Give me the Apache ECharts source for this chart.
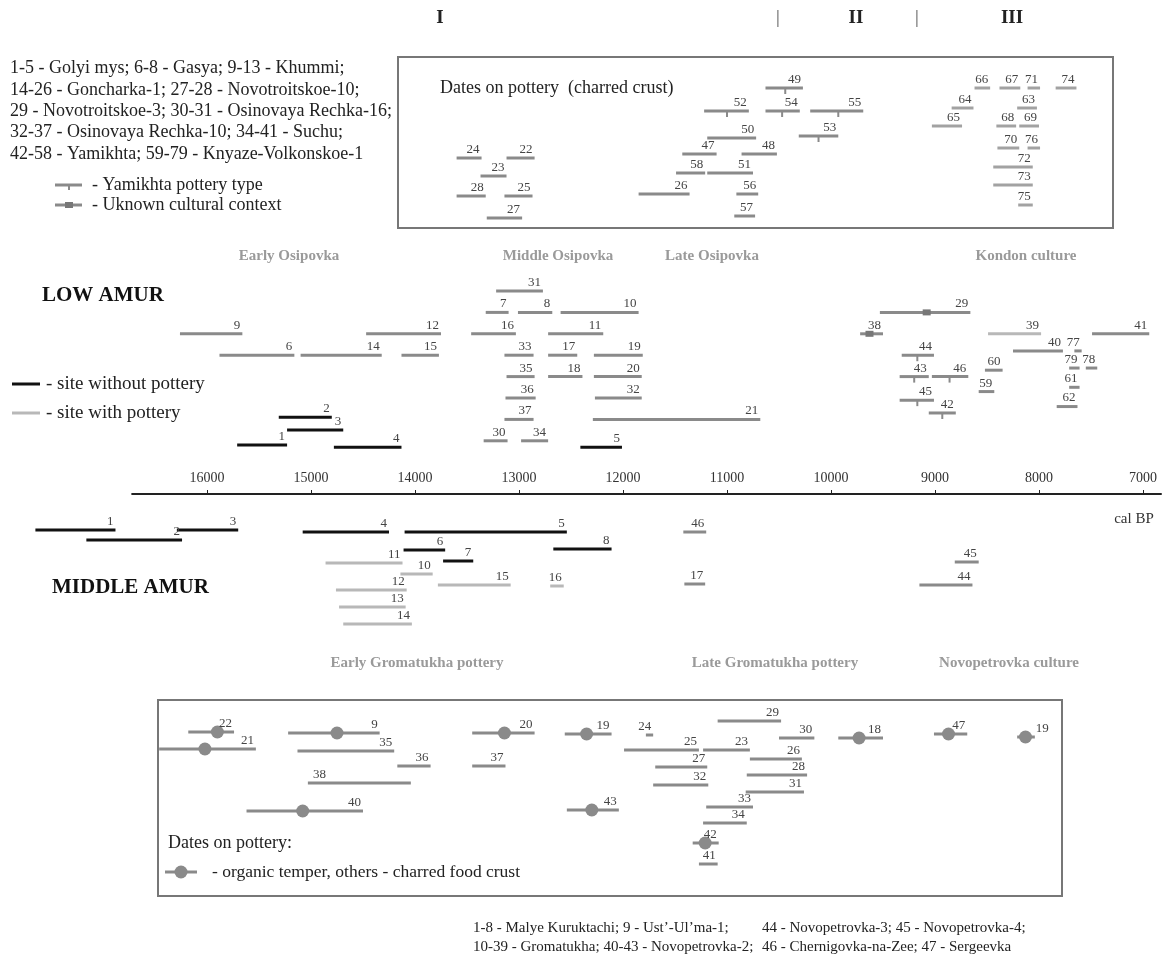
<!DOCTYPE html>
<html>
<head>
<meta charset="utf-8">
<script src="https://cdn.jsdelivr.net/npm/echarts@6/dist/echarts.min.js"></script>
<style>
html, body { margin: 0; background: #fff; }
#chart { width: 1163px; height: 958px; }
</style>
</head>
<body>
<div id="chart"></div>
<script>
// === DATA (cal BP) ===
// each row: [label, from, to, lane, marker]
const topGray = [
    ['24', 13600, 13360, 7], ['22', 13120, 12850, 7], ['23', 13370, 13120, 8.8],
    ['28', 13600, 13320, 10.8], ['25', 13140, 12870, 10.8], ['27', 13310, 12970, 13],
    ['47', 11430, 11100, 6.6], ['58', 11490, 11210, 8.5], ['26', 11850, 11360, 10.6],
    ['51', 11190, 10750, 8.5], ['50', 11190, 10720, 5], ['48', 10860, 10520, 6.6],
    ['56', 10910, 10700, 10.6], ['57', 10930, 10730, 12.8]
];
const topTicked = [
    ['49', 10630, 10270, 0, 10440], ['52', 11220, 10790, 2.3, 11000],
    ['54', 10630, 10300, 2.3, 10470], ['55', 10200, 9690, 2.3, 9930],
    ['53', 10310, 9930, 4.8, 10120]
];
const topLight = [
    ['66', 8620, 8470, 0], ['67', 8380, 8180, 0], ['71', 8110, 7990, 0], ['74', 7840, 7640, 0],
    ['64', 8840, 8630, 2], ['63', 8210, 8020, 2], ['65', 9030, 8740, 3.8], ['68', 8410, 8220, 3.8],
    ['69', 8190, 8000, 3.8], ['70', 8400, 8190, 6], ['76', 8110, 7990, 6], ['72', 8440, 8060, 7.9],
    ['73', 8440, 8060, 9.7], ['75', 8200, 8060, 11.7]
];

const lowBlack = [
    ['1', 15710, 15230, 7.2], ['2', 15310, 14800, 5.9], ['3', 15230, 14690, 6.5],
    ['4', 14780, 14130, 7.3], ['5', 12410, 12010, 7.3]
];
const lowGray = [
    ['9', 16260, 15660, 2], ['12', 14470, 13750, 2], ['6', 15880, 15160, 3], ['14', 15100, 14320, 3],
    ['15', 14130, 13770, 3], ['31', 13220, 12770, 0], ['7', 13320, 13100, 1], ['8', 13010, 12680, 1],
    ['10', 12600, 11850, 1], ['16', 13460, 13030, 2], ['11', 12720, 12190, 2], ['33', 13140, 12860, 3],
    ['17', 12720, 12440, 3], ['19', 12280, 11810, 3], ['35', 13120, 12850, 4], ['18', 12720, 12390, 4],
    ['20', 12280, 11820, 4], ['36', 13130, 12840, 5], ['32', 12270, 11820, 5], ['37', 13140, 12860, 6],
    ['21', 12290, 10680, 6], ['30', 13340, 13110, 7], ['34', 12980, 12720, 7], ['41', 7490, 6940, 2],
    ['40', 8250, 7770, 2.8], ['77', 7660, 7590, 2.8], ['60', 8520, 8350, 3.7], ['79', 7710, 7610, 3.6],
    ['78', 7550, 7440, 3.6], ['59', 8580, 8430, 4.7], ['61', 7710, 7610, 4.5], ['62', 7830, 7630, 5.4]
];
const lowLight = [['39', 8490, 7980, 2]];
const lowTicked = [
    ['44', 9320, 9010, 3, 9170], ['43', 9340, 9060, 4, 9200], ['46', 9030, 8680, 4, 8860],
    ['45', 9340, 9010, 5.1, 9170], ['42', 9060, 8800, 5.7, 8930]
];
const lowUnknown = [['29', 9530, 8660, 1, 9080], ['38', 9720, 9500, 2, 9630]];

const midBlack = [
    ['1', 17650, 16880, 0], ['3', 16290, 15700, 0], ['2', 17160, 16240, 1], ['4', 15080, 14250, 0.2],
    ['5', 14100, 12540, 0.2], ['6', 14110, 13710, 2], ['7', 13730, 13440, 3.1], ['8', 12670, 12110, 1.9]
];
const midLight = [
    ['11', 14860, 14120, 3.3], ['10', 14140, 13830, 4.4], ['15', 13780, 13080, 5.5], ['12', 14760, 14080, 6],
    ['13', 14730, 14090, 7.7], ['14', 14690, 14030, 9.4], ['16', 12700, 12570, 5.6]
];
const midGray = [
    ['46', 11420, 11200, 0.2], ['17', 11410, 11210, 5.4], ['45', 8810, 8580, 3.2], ['44', 9150, 8640, 5.5]
];

const botPlain = [
    ['29', 11090, 10480, 0], ['24', 11780, 11710, 1.4], ['30', 10500, 10160, 1.7], ['35', 15130, 14200, 3],
    ['25', 11990, 11270, 2.9], ['23', 11230, 10780, 2.9], ['26', 10780, 10280, 3.8], ['36', 14170, 13850, 4.5],
    ['37', 13450, 13130, 4.5], ['27', 11690, 11190, 4.6], ['28', 10810, 10230, 5.4], ['38', 15030, 14040, 6.2],
    ['32', 11710, 11180, 6.4], ['31', 10820, 10260, 7.1], ['33', 11200, 10750, 8.6], ['34', 11230, 10810, 10.2],
    ['41', 11270, 11090, 14.3]
];
const botCircle = [
    ['22', 16180, 15740, 1.1, 15900], ['21', 16460, 15530, 2.8, 16020], ['9', 15220, 14340, 1.2, 14750],
    ['40', 15620, 14500, 9, 15080], ['20', 13450, 12850, 1.2, 13140], ['19', 12560, 12110, 1.3, 12350],
    ['43', 12540, 12040, 8.9, 12300], ['42', 11330, 11080, 12.2, 11210], ['18', 9930, 9500, 1.7, 9730],
    ['47', 9010, 8690, 1.3, 8870], ['19', 8210, 8040, 1.6, 8130]
];

const tickValues = [16000, 15000, 14000, 13000, 12000, 11000, 10000, 9000, 8000, 7000];

// === LAYOUT ===
const X_RIGHT = 6827;    // BP at right edge
const X_LEFT = 17750;    // BP at left edge of the plotted bars
const AXIS_LEFT = 16720; // BP where the drawn axis line starts
const PLOT_LEFT = 25, PLOT_RIGHT = 2, PLOT_W = 1163 - PLOT_LEFT - PLOT_RIGHT;
const PX_PER_YEAR = PLOT_W / (X_LEFT - X_RIGHT);
const SERIF = '"Liberation Serif", "DejaVu Serif", serif';

// panels: top px of lane 0, px per lane, lane count
const panels = [
    { top: 88, lane: 10, n: 13 },     // upper box
    { top: 291, lane: 21.4, n: 7 },   // Low Amur
    { top: 530, lane: 10, n: 10 },    // Middle Amur
    { top: 721, lane: 10, n: 15 }     // lower box
];

// label placement exceptions (index in series)
const labelAtStart = { botPlain: [11] };
const labelAfterEnd = { botCircle: [10] };

// === RENDER ===
function barRender(rows, key, st) {
    return function (params, api) {
        const r = rows[params.dataIndex];
        const a = api.coord([r[1], r[3]]);
        const b = api.coord([r[2], r[3]]);
        const kids = [{
            type: 'line',
            shape: { x1: a[0], y1: a[1], x2: b[0], y2: b[1] },
            style: { stroke: st.color, lineWidth: st.width }
        }];
        if (r[4] != null) {
            const m = api.coord([r[4], r[3]]);
            if (st.mark === 'tick') {
                kids.push({ type: 'line', shape: { x1: m[0], y1: m[1], x2: m[0], y2: m[1] + 6 },
                    style: { stroke: st.color, lineWidth: 2 } });
            } else if (st.mark === 'square') {
                kids.push({ type: 'rect', shape: { x: m[0] - 4, y: m[1] - 3, width: 8, height: 6 },
                    style: { fill: '#777' } });
            } else if (st.mark === 'dot') {
                kids.push({ type: 'circle', shape: { cx: m[0], cy: m[1], r: 6.5 },
                    style: { fill: st.color } });
            }
        }
        let tx = b[0] - 2, align = 'right';
        if ((labelAtStart[key] || []).includes(params.dataIndex)) { tx = a[0] + 5; align = 'left'; }
        if ((labelAfterEnd[key] || []).includes(params.dataIndex)) { tx = b[0] + 1; align = 'left'; }
        kids.push({
            type: 'text', x: tx, y: a[1] - 2,
            style: { text: r[0], fill: '#444', font: '13px ' + SERIF, align: align, verticalAlign: 'bottom' }
        });
        return { type: 'group', children: kids };
    };
}

function barSeries(rows, key, panel, st) {
    return {
        type: 'custom',
        xAxisIndex: panel, yAxisIndex: panel,
        data: rows.map(r => [r[1], r[2], r[3]]),
        encode: { x: [0, 1], y: 2 },
        renderItem: barRender(rows, key, st),
        silent: true
    };
}

function txt(x, y, text, opt) {
    opt = opt || {};
    return {
        type: 'text', x: x, y: y, silent: true,
        style: {
            text: text, fill: opt.color || '#222',
            font: (opt.bold ? 'bold ' : '') + (opt.size || 18) + 'px ' + SERIF,
            align: opt.align || 'left', verticalAlign: 'middle'
        }
    };
}

function seg(x1, y1, x2, y2, color, w) {
    return { type: 'line', silent: true, shape: { x1: x1, y1: y1, x2: x2, y2: y2 },
        style: { stroke: color, lineWidth: w } };
}

function init() {
    const chart = echarts.init(document.getElementById('chart'));
    const axisGridLeft = PLOT_LEFT + (X_LEFT - AXIS_LEFT) * PX_PER_YEAR;

    const grids = panels.map(p => ({ left: PLOT_LEFT, right: PLOT_RIGHT, top: p.top, height: p.n * p.lane }));
    grids.push({ left: axisGridLeft, right: PLOT_RIGHT, top: 493, height: 1 });

    const xAxes = panels.map((p, i) => ({
        type: 'value', gridIndex: i, min: X_RIGHT, max: X_LEFT, inverse: true, show: false
    }));
    xAxes.push({
        type: 'value', gridIndex: 4, min: X_RIGHT, max: AXIS_LEFT, inverse: true, position: 'top',
        axisLine: { show: true, lineStyle: { color: '#222', width: 2 } },
        axisTick: { show: true, length: 4, lineStyle: { color: '#222' }, customValues: tickValues },
        axisLabel: { color: '#333', fontFamily: SERIF, fontSize: 14, margin: 8,
            customValues: tickValues, formatter: v => String(v) },
        splitLine: { show: false }
    });
    const yAxes = panels.map((p, i) => ({
        type: 'value', gridIndex: i, min: 0, max: p.n, inverse: true, show: false
    }));
    yAxes.push({ type: 'value', gridIndex: 4, show: false });

    const gray = '#8a8a8a', light = '#b8b8b8', lighter = '#a2a2a2', black = '#111';
    const series = [
        barSeries(topGray, 'topGray', 0, { color: gray, width: 3 }),
        barSeries(topTicked, 'topTicked', 0, { color: gray, width: 3, mark: 'tick' }),
        barSeries(topLight, 'topLight', 0, { color: lighter, width: 3 }),
        barSeries(lowGray, 'lowGray', 1, { color: gray, width: 3 }),
        barSeries(lowLight, 'lowLight', 1, { color: light, width: 3 }),
        barSeries(lowTicked, 'lowTicked', 1, { color: gray, width: 3, mark: 'tick' }),
        barSeries(lowUnknown, 'lowUnknown', 1, { color: gray, width: 3, mark: 'square' }),
        barSeries(lowBlack, 'lowBlack', 1, { color: black, width: 3 }),
        barSeries(midBlack, 'midBlack', 2, { color: black, width: 3 }),
        barSeries(midLight, 'midLight', 2, { color: light, width: 3 }),
        barSeries(midGray, 'midGray', 2, { color: gray, width: 3 }),
        barSeries(botPlain, 'botPlain', 3, { color: gray, width: 3 }),
        barSeries(botCircle, 'botCircle', 3, { color: gray, width: 3, mark: 'dot' })
    ];

    const culture = { color: '#9a9a9a', bold: true, size: 15, align: 'center' };
    const graphic = [
        // period headers
        txt(440, 18, 'I', { bold: true, size: 19, align: 'center' }),
        txt(778, 18, '|', { size: 19, align: 'center', color: '#555' }),
        txt(856, 18, 'II', { bold: true, size: 19, align: 'center' }),
        txt(917, 18, '|', { size: 19, align: 'center', color: '#555' }),
        txt(1012, 18, 'III', { bold: true, size: 19, align: 'center' }),
        // site key, upper left
        txt(10, 68, '1-5 - Golyi mys; 6-8 - Gasya; 9-13 - Khummi;'),
        txt(10, 90, '14-26 - Goncharka-1; 27-28 - Novotroitskoe-10;'),
        txt(10, 111, '29 - Novotroitskoe-3; 30-31 - Osinovaya Rechka-16;'),
        txt(10, 132, '32-37 - Osinovaya Rechka-10; 34-41 - Suchu;'),
        txt(10, 154, '42-58 - Yamikhta; 59-79 - Knyaze-Volkonskoe-1'),
        seg(55, 185, 82, 185, gray, 3), seg(69, 185, 69, 190, gray, 2),
        txt(92, 185, '- Yamikhta pottery type'),
        seg(55, 205, 82, 205, gray, 3),
        { type: 'rect', silent: true, shape: { x: 65, y: 202, width: 8, height: 6 }, style: { fill: '#777' } },
        txt(92, 205, '- Uknown cultural context'),
        // upper box
        { type: 'rect', silent: true, shape: { x: 398, y: 57, width: 715, height: 171 },
          style: { fill: 'none', stroke: '#777', lineWidth: 2 } },
        txt(440, 88, 'Dates on pottery  (charred crust)'),
        // Low Amur
        txt(289, 256, 'Early Osipovka', culture),
        txt(558, 256, 'Middle Osipovka', culture),
        txt(712, 256, 'Late Osipovka', culture),
        txt(1026, 256, 'Kondon culture', culture),
        txt(42, 296, 'LOW AMUR', { bold: true, size: 21, color: '#111' }),
        seg(12, 384, 40, 384, black, 3),
        txt(46, 384, '- site without pottery', { size: 19 }),
        seg(12, 413, 40, 413, light, 3),
        txt(46, 413, '- site with pottery', { size: 19 }),
        txt(1134, 519, 'cal BP', { size: 15, align: 'center', color: '#333' }),
        // Middle Amur
        txt(52, 588, 'MIDDLE AMUR', { bold: true, size: 21, color: '#111' }),
        txt(417, 663, 'Early Gromatukha pottery', culture),
        txt(775, 663, 'Late Gromatukha pottery', culture),
        txt(1009, 663, 'Novopetrovka culture', culture),
        // lower box
        { type: 'rect', silent: true, shape: { x: 158, y: 700, width: 904, height: 196 },
          style: { fill: 'none', stroke: '#777', lineWidth: 2 } },
        txt(168, 843, 'Dates on pottery:'),
        seg(165, 872, 197, 872, gray, 3),
        { type: 'circle', silent: true, shape: { cx: 181, cy: 872, r: 6.5 }, style: { fill: gray } },
        txt(212, 872, '- organic temper, others - charred food crust', { size: 17.5 }),
        // site key, bottom
        txt(473, 928, '1-8 - Malye Kuruktachi; 9 - Ust\u2019-Ul\u2019ma-1;', { size: 15 }),
        txt(473, 947, '10-39 - Gromatukha; 40-43 - Novopetrovka-2;', { size: 15 }),
        txt(762, 928, '44 - Novopetrovka-3; 45 - Novopetrovka-4;', { size: 15 }),
        txt(762, 947, '46 - Chernigovka-na-Zee; 47 - Sergeevka', { size: 15 })
    ];

    chart.setOption({
        animation: false,
        backgroundColor: '#fff',
        grid: grids,
        xAxis: xAxes,
        yAxis: yAxes,
        series: series,
        graphic: graphic
    });
}

init();
</script>
</body>
</html>
